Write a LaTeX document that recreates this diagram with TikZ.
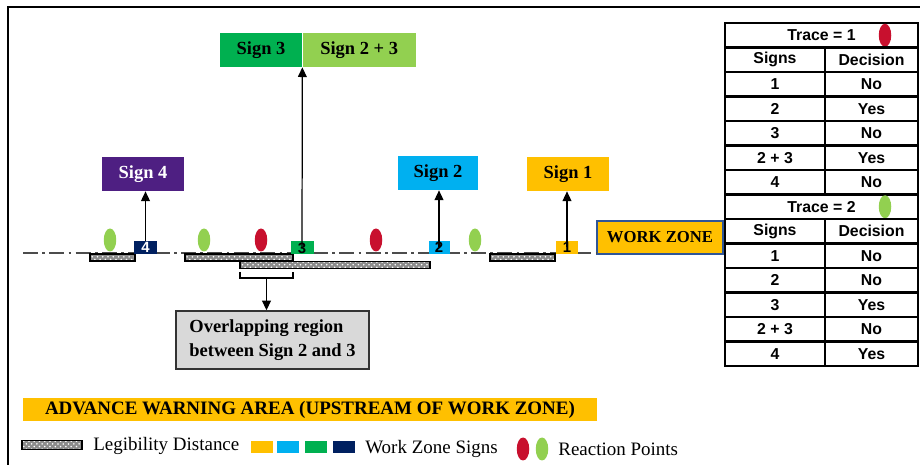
\documentclass[tikz,border=0pt]{standalone}
\usepackage{fontspec}
\setmainfont{Liberation Serif}
\newfontfamily\tabfont{Liberation Sans}
\usepackage{tikz}
\usetikzlibrary{arrows.meta, patterns, shapes.geometric}
\definecolor{signgreen}{HTML}{00B050}
\definecolor{lightgreen}{HTML}{92D050}
\definecolor{signpurple}{HTML}{4E1F82}
\definecolor{signcyan}{HTML}{00B0F0}
\definecolor{amber}{HTML}{FFC000}
\definecolor{navy}{HTML}{002060}
\definecolor{crimson}{HTML}{C8102E}
\definecolor{zoneblue}{HTML}{2F5597}

\begin{document}
\begin{tikzpicture}[x=0.02cm, y=-0.02cm,
    sign/.style={rectangle, fill=#1, minimum height=0.68cm, inner sep=0pt, font=\bfseries\fontsize{10.5}{12}\selectfont},
    tag/.style={rectangle, fill=#1, minimum width=0.46cm, minimum height=0.26cm, inner sep=0pt, font=\tabfont\bfseries\fontsize{8.5}{9}\selectfont},
    react/.style={ellipse, fill=#1, minimum width=0.25cm, minimum height=0.46cm, inner sep=0pt},
    legib/.style={rectangle, draw=black, line width=0.6pt, preaction={fill=black!45}, pattern=crosshatch dots, pattern color=white, minimum height=0.14cm, inner sep=0pt},
    cell/.style={rectangle, draw=black, line width=1.4pt, minimum height=0.49cm, inner sep=0pt, font=\tabfont\bfseries\fontsize{9}{10}\selectfont},
    legtext/.style={anchor=west, inner sep=0pt, font=\fontsize{10.8}{12}\selectfont},
    link/.style={-{Triangle[length=5.5pt,width=5pt]}, line width=0.7pt}]
  \useasboundingbox (0,0) rectangle (920,465);
  \draw[line width=1.2pt] (920,7) -- (8,7) -- (8,465);

  \node[sign=signgreen, minimum width=1.64cm] (s3) at (261,50) {Sign 3};
  \node[sign=lightgreen, minimum width=2.26cm, anchor=west] (s23) at (s3.east) {Sign 2 + 3};
  \node[sign=signpurple, minimum width=1.64cm, text=white] (s4) at (143,174) {Sign 4};
  \node[sign=signcyan, minimum width=1.6cm] (s2) at (438,173) {Sign 2};
  \node[sign=amber, minimum width=1.64cm] (s1) at (568,174) {Sign 1};
  \node[sign=amber, draw=zoneblue, line width=0.8pt, minimum width=2.52cm, minimum height=0.66cm,
    font=\bfseries\fontsize{9.5}{11}\selectfont] (wz) at (660,237.5) {WORK ZONE};

  \coordinate (road) at (23,253);
  \draw[gray!60!black, line width=1pt, dash pattern=on 8.5pt off 2.5pt on 1.5pt off 2.5pt] (road) -- (road -| wz.west);

  \node[legib, minimum width=0.9cm] (l4) at (112.5,257.5) {};
  \node[legib, minimum width=2.16cm] (l3) at (239,257.5) {};
  \node[legib, minimum width=3.8cm] (l2) at (335,265) {};
  \node[legib, minimum width=1.3cm] (l1) at (522.5,257.5) {};

  \node[tag=navy, text=white] (m4) at (145.5,247.5) {4};
  \node[tag=signgreen] (m3) at (302,248) {3};
  \node[tag=signcyan, minimum width=0.42cm] (m2) at (439,247.5) {2};
  \node[tag=amber, minimum width=0.44cm] (m1) at (567,247.5) {1};

  \draw[link] (m4.north) -- (m4.north |- s4.south);
  \draw[link] (m3.center) -- (s3.south east);
  \draw[link] (m2.center) -- (m2.center |- s2.south);
  \draw[link] (m1.center) -- (m1.center |- s1.south);

  \node[react=lightgreen] (p1) at (110,240) {};
  \node[react=lightgreen] (p2) at (204,240) {};
  \node[react=crimson] (p3) at (261,240) {};
  \node[react=crimson] (p4) at (376,240) {};
  \node[react=lightgreen] (p5) at (475,240) {};

  \node[draw=black!80, line width=0.8pt, fill=black!15, minimum width=3.86cm, minimum height=1.16cm, align=left,
    font=\bfseries\fontsize{10.5}{13.5}\selectfont] (ov) at (272.5,340) {Overlapping region\\between Sign 2 and 3};
  \draw[line width=0.7pt] (240,272) -- (240,278) -- (293,278) -- (293,272);
  \coordinate (bm) at (266.5,278);
  \draw[link] (bm) -- (bm |- ov.north);

  \node[fill=amber, minimum width=11.48cm, minimum height=0.46cm, inner sep=0pt,
    font=\bfseries\fontsize{10.8}{12}\selectfont] (awa) at (310,409.5) {ADVANCE WARNING AREA (UPSTREAM OF WORK ZONE)};

  \node[legib, minimum width=1.2cm, minimum height=0.18cm] (k0) at (52,445) {};
  \node[legtext] (k0t) at (93,446) {Legibility Distance};
  \foreach \c/\x [count=\i] in {amber/261.5, signcyan/287.5, signgreen/316, navy/343.5}
    \node[tag=\c, minimum width=0.44cm, minimum height=0.24cm] (k\i) at (\x,447.5) {};
  \node[legtext] (k5t) at (365,449) {Work Zone Signs};
  \node[react=crimson] (k6) at (523,449) {};
  \node[react=lightgreen] (k7) at (542,449) {};
  \node[legtext] (k7t) at (558,449) {Reaction Points};

  \node[cell, minimum width=3.86cm] (t1) at (821.5,35.25) {Trace = 1};
  \node[react=crimson] (t1p) at (885,35.25) {};
  \node[cell, minimum width=2cm] (h1a) at (775,59.75) {Signs};
  \node[cell, minimum width=1.86cm] (h1b) at (871.5,59.75) {Decision};
  \foreach \s/\d [count=\i] in {1/No, 2/Yes, 3/No, 2 + 3/Yes, 4/No} {
    \node[cell, minimum width=2cm] (a\i) at (775,59.75+24.5*\i) {\s};
    \node[cell, minimum width=1.86cm] (b\i) at (871.5,59.75+24.5*\i) {\d};
  }

  \node[cell, minimum width=3.86cm] (t2) at (821.5,206.75) {Trace = 2};
  \node[react=lightgreen] (t2p) at (885,206.75) {};
  \node[cell, minimum width=2cm] (h2a) at (775,231.25) {Signs};
  \node[cell, minimum width=1.86cm] (h2b) at (871.5,231.25) {Decision};
  \foreach \s/\d [count=\i] in {1/No, 2/No, 3/Yes, 2 + 3/No, 4/Yes} {
    \node[cell, minimum width=2cm] (c\i) at (775,231.25+24.5*\i) {\s};
    \node[cell, minimum width=1.86cm] (d\i) at (871.5,231.25+24.5*\i) {\d};
  }
\end{tikzpicture}
\end{document}
